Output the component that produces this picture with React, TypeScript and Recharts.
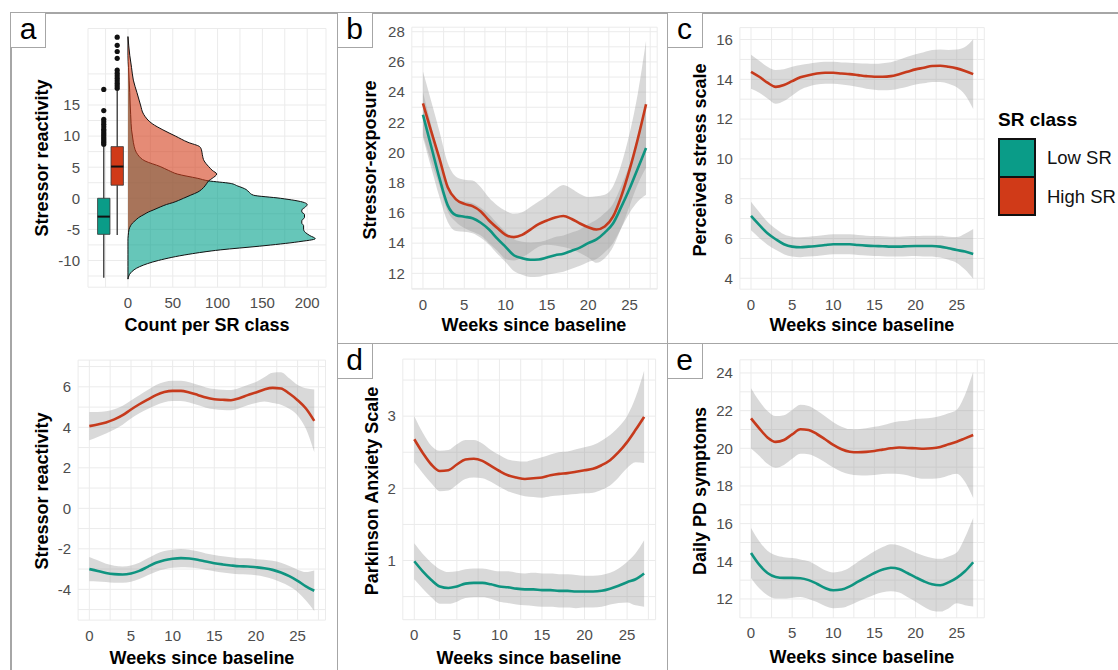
import React from "react";
import {
  ComposedChart,
  Area,
  Line,
  XAxis,
  YAxis,
  CartesianGrid,
  ReferenceArea,
  ReferenceLine,
  Scatter,
} from "recharts";

const FONT = '"Liberation Sans", Arial, Helvetica, sans-serif';
const TEAL = "#0f9480";
const RED = "#c63a1c";
const TEAL_FILL = "#00a08a";
const RED_FILL = "#d43d1a";
const BOX_TEAL = "#0a9c88";
const BOX_RED = "#d03a18";
const GRID = "#ebebeb";
const FRAME = "#a6a6a6";

// ---- panel a (top): density + boxplots ----
const densityY = [-13, -12, -11, -10, -9, -8.3, -7.7, -7, -6.5, -6, -5.5, -5, -4.4, -4, -3.6, -3.1, -2.6, -2.2, -1.9, -1.4, -1, -0.7, 0, 0.5, 1, 1.4, 2, 2.4, 2.8, 3.2, 3.9, 4.5, 5.1, 6, 7, 7.8, 8.3, 9, 10, 11, 12, 13.5, 15, 17, 19, 21, 23, 26];
const lowSRCount = [0, 3, 13, 34, 68, 103, 147, 190, 209, 203, 198, 196, 196, 194, 194, 197, 197, 194, 194, 198, 200, 197, 170, 140, 135, 132, 122, 114, 90, 78, 55, 45, 36, 19, 11, 8, 7, 6, 5, 4, 3.5, 3, 2.5, 2, 1.3, 0.6, 0, 0];
const highSRCount = [0, 0, 0, 0, 0, 0, 0, 0, 0, 0.3, 0.6, 1.2, 3, 5, 8, 12, 18, 23, 28, 36, 43, 50, 62, 70, 78, 82, 86, 88, 90, 94, 99, 94, 90, 85, 83, 82, 80, 67, 53, 39, 27, 17.5, 14, 10, 6, 4, 2, 0];

// min, q1, median, q3, max
const lowSRBox = [-12.8, -5.8, -2.95, 0, 8.6];
const highSRBox = [-5.9, 2.1, 5.1, 8.3, 17.4];
const lowSROutliers = [8.7, 9.0, 9.3, 9.6, 9.9, 10.2, 10.5, 10.8, 11.1, 11.5, 11.9, 12.3, 12.7, 14.1, 17.5];
const highSROutliers = [17.7, 18.1, 18.5, 18.9, 19.3, 19.7, 20.1, 20.6, 22.5, 23.6, 24.6, 25.9];

const countTicks = [-25, 0, 25, 50, 75, 100, 125, 150, 175, 200];
const countLabels = [0, 50, 100, 150, 200];
const reactivityGrid = [-12.5, -10, -7.5, -5, -2.5, 0, 2.5, 5, 7.5, 10, 12.5, 15, 17.5, 20];
const reactivityLabels = [-10, -5, 0, 5, 10, 15];

// ---- weekly smoothed trends ----
const weeks = [0, 1, 2, 3, 4, 5, 6, 7, 8, 9, 10, 11, 12, 13, 14, 15, 16, 17, 18, 19, 20, 21, 22, 23, 24, 25, 26, 27];
const weekTicks = [0, 2.5, 5, 7.5, 10, 12.5, 15, 17.5, 20, 22.5, 25, 27.5];
const weekLabels = [0, 5, 10, 15, 20, 25];

// stressor reactivity
const srHigh = [4.06, 4.14, 4.24, 4.39, 4.6, 4.88, 5.14, 5.37, 5.59, 5.74, 5.8, 5.8, 5.72, 5.6, 5.47, 5.39, 5.36, 5.34, 5.44, 5.59, 5.72, 5.87, 5.95, 5.92, 5.67, 5.34, 4.93, 4.32];
const srHighCi = [0.7, 0.62, 0.55, 0.5, 0.47, 0.45, 0.45, 0.47, 0.5, 0.5, 0.5, 0.5, 0.5, 0.5, 0.5, 0.5, 0.5, 0.5, 0.5, 0.5, 0.52, 0.6, 0.75, 0.8, 0.75, 0.75, 1.0, 1.55];
const srLow = [-3.0, -3.09, -3.19, -3.25, -3.27, -3.22, -3.09, -2.89, -2.69, -2.56, -2.49, -2.46, -2.48, -2.54, -2.63, -2.71, -2.77, -2.82, -2.86, -2.87, -2.91, -2.96, -3.04, -3.17, -3.35, -3.58, -3.85, -4.07];
const srLowCi = [0.6, 0.52, 0.45, 0.42, 0.4, 0.4, 0.4, 0.42, 0.44, 0.45, 0.45, 0.45, 0.44, 0.42, 0.4, 0.4, 0.4, 0.4, 0.4, 0.4, 0.4, 0.42, 0.45, 0.48, 0.5, 0.55, 0.7, 1.0];
const srTicks = [-5, -4, -3, -2, -1, 0, 1, 2, 3, 4, 5, 6, 7];
const srLabels = [-4, -2, 0, 2, 4, 6];

// stressor exposure
const exHigh = [23.26, 21.4, 19.6, 17.7, 16.9, 16.6, 16.45, 16.1, 15.5, 15.0, 14.55, 14.4, 14.55, 14.9, 15.26, 15.5, 15.7, 15.8, 15.6, 15.3, 15.05, 14.9, 15.1, 15.75, 17.1, 18.85, 20.9, 23.2];
const exHighCi = [2.1, 2.0, 1.8, 1.6, 1.5, 1.6, 1.7, 1.6, 1.5, 1.5, 1.6, 1.55, 1.5, 1.5, 1.5, 1.6, 1.85, 2.05, 2.0, 1.95, 2.0, 2.2, 2.1, 2.0, 2.1, 2.4, 3.0, 4.2];
const exLow = [22.5, 20.4, 18.3, 16.5, 15.85, 15.75, 15.65, 15.35, 14.9, 14.3, 13.75, 13.2, 13.0, 12.9, 12.92, 13.05, 13.2, 13.3, 13.5, 13.7, 14.0, 14.25, 14.7, 15.3, 16.4, 17.6, 18.95, 20.3];
const exLowCi = [1.5, 1.4, 1.25, 1.1, 1.05, 1.0, 1.0, 1.0, 1.0, 1.0, 1.0, 1.05, 1.1, 1.15, 1.15, 1.15, 1.2, 1.2, 1.2, 1.2, 1.25, 1.3, 1.3, 1.3, 1.4, 1.6, 2.2, 3.1];
const exTicks = [11, 12, 13, 14, 15, 16, 17, 18, 19, 20, 21, 22, 23, 24, 25, 26, 27, 28];
const exLabels = [12, 14, 16, 18, 20, 22, 24, 26, 28];

// perceived stress scale
const psHigh = [14.38, 14.13, 13.83, 13.62, 13.71, 13.91, 14.1, 14.21, 14.29, 14.33, 14.33, 14.29, 14.26, 14.21, 14.16, 14.13, 14.13, 14.16, 14.26, 14.38, 14.5, 14.58, 14.67, 14.68, 14.63, 14.55, 14.42, 14.26];
const psHighCi = [0.85, 0.8, 0.8, 0.85, 0.8, 0.72, 0.62, 0.57, 0.55, 0.55, 0.55, 0.55, 0.57, 0.6, 0.63, 0.65, 0.68, 0.7, 0.72, 0.75, 0.76, 0.78, 0.8, 0.82, 0.85, 0.95, 1.2, 1.75];
const psLow = [7.13, 6.68, 6.26, 5.96, 5.71, 5.59, 5.56, 5.59, 5.62, 5.67, 5.71, 5.71, 5.71, 5.67, 5.64, 5.62, 5.61, 5.59, 5.59, 5.61, 5.62, 5.62, 5.62, 5.59, 5.51, 5.42, 5.34, 5.22];
const psLowCi = [0.72, 0.65, 0.58, 0.53, 0.5, 0.5, 0.5, 0.5, 0.5, 0.5, 0.5, 0.5, 0.5, 0.5, 0.5, 0.5, 0.5, 0.5, 0.5, 0.5, 0.5, 0.52, 0.52, 0.55, 0.58, 0.65, 0.9, 1.25];
const psTicks = [4, 5, 6, 7, 8, 9, 10, 11, 12, 13, 14, 15, 16];
const psLabels = [4, 6, 8, 10, 12, 14, 16];

// parkinson anxiety scale
const paHigh = [2.68, 2.49, 2.33, 2.24, 2.25, 2.33, 2.4, 2.41, 2.38, 2.31, 2.24, 2.18, 2.15, 2.13, 2.14, 2.15, 2.18, 2.2, 2.21, 2.23, 2.25, 2.27, 2.32, 2.39, 2.5, 2.64, 2.81, 2.99];
const paHighCi = [0.32, 0.28, 0.26, 0.28, 0.28, 0.28, 0.27, 0.26, 0.24, 0.22, 0.22, 0.22, 0.23, 0.24, 0.26, 0.28, 0.29, 0.3, 0.3, 0.31, 0.32, 0.33, 0.34, 0.35, 0.35, 0.36, 0.45, 0.64];
const paLow = [0.99, 0.85, 0.73, 0.64, 0.62, 0.64, 0.68, 0.69, 0.69, 0.67, 0.64, 0.63, 0.61, 0.6, 0.6, 0.59, 0.59, 0.58, 0.58, 0.57, 0.57, 0.57, 0.58, 0.61, 0.65, 0.7, 0.74, 0.82];
const paLowCi = [0.25, 0.24, 0.24, 0.24, 0.22, 0.21, 0.2, 0.2, 0.2, 0.2, 0.21, 0.22, 0.22, 0.22, 0.23, 0.23, 0.23, 0.23, 0.23, 0.23, 0.22, 0.22, 0.22, 0.22, 0.24, 0.28, 0.36, 0.46];
const paTicks = [0.5, 1, 1.5, 2, 2.5, 3, 3.5];
const paLabels = [1, 2, 3];

// daily PD symptoms
const pdHigh = [21.59, 21.06, 20.58, 20.34, 20.44, 20.74, 21.01, 20.97, 20.76, 20.48, 20.18, 19.95, 19.82, 19.79, 19.81, 19.86, 19.93, 20.0, 20.04, 20.02, 20.0, 19.98, 20.0, 20.07, 20.21, 20.35, 20.53, 20.71];
const pdHighCi = [1.6, 1.45, 1.4, 1.37, 1.32, 1.3, 1.3, 1.28, 1.25, 1.22, 1.2, 1.2, 1.2, 1.22, 1.25, 1.28, 1.3, 1.35, 1.4, 1.45, 1.55, 1.6, 1.62, 1.65, 1.65, 1.7, 2.3, 3.35];
const pdLow = [14.44, 13.82, 13.38, 13.17, 13.12, 13.12, 13.1, 13.0, 12.81, 12.58, 12.46, 12.5, 12.67, 12.92, 13.15, 13.38, 13.56, 13.66, 13.59, 13.38, 13.15, 12.94, 12.78, 12.73, 12.88, 13.12, 13.47, 13.95];
const pdLowCi = [1.33, 1.25, 1.18, 1.15, 1.1, 1.05, 1.0, 1.0, 0.97, 0.95, 0.95, 0.97, 1.0, 1.05, 1.1, 1.15, 1.2, 1.25, 1.25, 1.28, 1.3, 1.35, 1.4, 1.4, 1.38, 1.35, 1.8, 2.35];
const pdTicks = [11, 12, 13, 14, 15, 16, 17, 18, 19, 20, 21, 22, 23, 24];
const pdLabels = [12, 14, 16, 18, 20, 22, 24];

const tickStyle = { fill: "#4d4d4d", fontSize: 15, fontFamily: FONT };

type Margin = { top: number; right: number; bottom: number; left: number };

type TrendProps = {
  left: number;
  top: number;
  width: number;
  height: number;
  margin: Margin;
  yWidth: number;
  yDomain: [number, number];
  yTicks: number[];
  yLabels: number[];
  high: number[];
  highCi: number[];
  low: number[];
  lowCi: number[];
};

function TrendPanel(p: TrendProps) {
  const rows = weeks.map((week, i) => ({
    week,
    high: p.high[i],
    highBand: [p.high[i] - p.highCi[i], p.high[i] + p.highCi[i]],
    low: p.low[i],
    lowBand: [p.low[i] - p.lowCi[i], p.low[i] + p.lowCi[i]],
  }));
  return (
    <div style={{ position: "absolute", left: p.left, top: p.top }}>
      <ComposedChart width={p.width} height={p.height} data={rows} margin={p.margin}>
        <CartesianGrid stroke={GRID} strokeWidth={1} />
        <XAxis
          type="number"
          dataKey="week"
          domain={[-1.35, 28.35]}
          ticks={weekTicks}
          interval={0}
          allowDataOverflow
          tickFormatter={(v: number) => (weekLabels.includes(v) ? String(v) : "")}
          axisLine={false}
          tickLine={false}
          tickSize={0}
          tickMargin={10}
          height={30}
          tick={tickStyle}
        />
        <YAxis
          type="number"
          domain={p.yDomain}
          ticks={p.yTicks}
          interval={0}
          allowDataOverflow
          tickFormatter={(v: number) => (p.yLabels.includes(v) ? String(v) : "")}
          axisLine={false}
          tickLine={false}
          tickSize={0}
          tickMargin={7}
          width={p.yWidth}
          tick={tickStyle}
        />
        <Area dataKey="highBand" type="monotone" fill="#999999" fillOpacity={0.37} stroke="none" isAnimationActive={false} />
        <Area dataKey="lowBand" type="monotone" fill="#999999" fillOpacity={0.37} stroke="none" isAnimationActive={false} />
        <Line dataKey="low" type="monotone" stroke={TEAL} strokeWidth={2.6} dot={false} activeDot={false} isAnimationActive={false} />
        <Line dataKey="high" type="monotone" stroke={RED} strokeWidth={2.6} dot={false} activeDot={false} isAnimationActive={false} />
      </ComposedChart>
    </div>
  );
}

const BOX_HALF = 6.9;
const LOW_BOX_X = -27;
const HIGH_BOX_X = -12;

function boxplotMarks(stats: number[], center: number, color: string, key: string) {
  const [lo, q1, med, q3, hi] = stats;
  const x1 = center - BOX_HALF;
  const x2 = center + BOX_HALF;
  return [
    <ReferenceLine key={key + "w1"} segment={[{ x: center, y: lo }, { x: center, y: q1 }]} stroke="#333" strokeWidth={1.3} />,
    <ReferenceLine key={key + "w2"} segment={[{ x: center, y: q3 }, { x: center, y: hi }]} stroke="#333" strokeWidth={1.3} />,
    <ReferenceArea key={key + "b"} x1={x1} x2={x2} y1={q1} y2={q3} fill={color} fillOpacity={1} stroke="#333" strokeWidth={0.8} />,
    <ReferenceLine key={key + "m"} segment={[{ x: x1, y: med }, { x: x2, y: med }]} stroke="#111" strokeWidth={2} />,
  ];
}

function DensityPanel() {
  const rows = densityY.map((y, i) => ({ y, low: lowSRCount[i], high: highSRCount[i] }));
  const lowPts = lowSROutliers.map((y) => ({ x: LOW_BOX_X, y }));
  const highPts = highSROutliers.map((y) => ({ x: HIGH_BOX_X, y }));
  const dot = (p: any) => <circle cx={p.cx} cy={p.cy} r={2.6} fill="#111" />;
  return (
    <div style={{ position: "absolute", left: 0, top: 0 }}>
      <ComposedChart
        layout="vertical"
        width={337}
        height={340}
        data={rows}
        margin={{ top: 28.5, right: 11, bottom: 22.8, left: 28 }}
      >
        <CartesianGrid stroke={GRID} strokeWidth={1} />
        <XAxis
          type="number"
          domain={[-44.6, 221]}
          ticks={countTicks}
          interval={0}
          allowDataOverflow
          tickFormatter={(v: number) => (countLabels.includes(v) ? String(v) : "")}
          axisLine={false}
          tickLine={false}
          tickSize={0}
          tickMargin={10}
          height={30}
          tick={tickStyle}
        />
        <YAxis
          type="number"
          dataKey="y"
          reversed
          domain={[-14.3, 27.3]}
          ticks={reactivityGrid}
          interval={0}
          allowDataOverflow
          tickFormatter={(v: number) => (reactivityLabels.includes(v) ? String(v) : "")}
          axisLine={false}
          tickLine={false}
          tickSize={0}
          tickMargin={8}
          width={60}
          tick={tickStyle}
        />
        <Area dataKey="low" type="monotone" fill={TEAL_FILL} fillOpacity={0.6} stroke="#111" strokeWidth={1} isAnimationActive={false} />
        <Area dataKey="high" type="monotone" fill={RED_FILL} fillOpacity={0.6} stroke="#111" strokeWidth={1} isAnimationActive={false} />
        {boxplotMarks(lowSRBox, LOW_BOX_X, BOX_TEAL, "low")}
        {boxplotMarks(highSRBox, HIGH_BOX_X, BOX_RED, "high")}
        <Scatter data={lowPts} dataKey="x" shape={dot} isAnimationActive={false} />
        <Scatter data={highPts} dataKey="x" shape={dot} isAnimationActive={false} />
      </ComposedChart>
    </div>
  );
}

function XTitle({ x, y, text }: { x: number; y: number; text: string }) {
  return (
    <div
      style={{
        position: "absolute",
        left: x,
        top: y,
        transform: "translate(-50%, -50%)",
        fontFamily: FONT,
        fontWeight: 700,
        fontSize: 18,
        color: "#000",
        whiteSpace: "nowrap",
        lineHeight: 1,
      }}
    >
      {text}
    </div>
  );
}

function YTitle({ x, y, text }: { x: number; y: number; text: string }) {
  return (
    <div
      style={{
        position: "absolute",
        left: x,
        top: y,
        transform: "translate(-50%, -50%) rotate(-90deg)",
        fontFamily: FONT,
        fontWeight: 700,
        fontSize: 18,
        color: "#000",
        whiteSpace: "nowrap",
        lineHeight: 1,
      }}
    >
      {text}
    </div>
  );
}

function Tag({ x, y, text }: { x: number; y: number; text: string }) {
  return (
    <div
      style={{
        position: "absolute",
        left: x,
        top: y,
        width: 36,
        height: 36,
        boxSizing: "border-box",
        border: `1.6px solid ${FRAME}`,
        background: "#fff",
        fontFamily: FONT,
        fontSize: 30,
        lineHeight: "32px",
        textAlign: "center",
        color: "#000",
      }}
    >
      {text}
    </div>
  );
}

function Rule({ x, y, w, h }: { x: number; y: number; w: number; h: number }) {
  return <div style={{ position: "absolute", left: x, top: y, width: w, height: h, background: FRAME }} />;
}

export default function App() {
  return (
    <div
      style={{
        position: "absolute",
        left: 0,
        top: 0,
        width: 1118,
        height: 670,
        background: "#fff",
        overflow: "hidden",
        fontFamily: FONT,
      }}
    >
      <DensityPanel />
      <TrendPanel
        left={0} top={340} width={337} height={330}
        margin={{ top: 20.1, right: 11.5, bottom: 19.9, left: 28.1 }}
        yWidth={50} yDomain={[-5.52, 7.32]} yTicks={srTicks} yLabels={srLabels}
        high={srHigh} highCi={srHighCi} low={srLow} lowCi={srLowCi}
      />
      <TrendPanel
        left={337} top={0} width={330} height={340}
        margin={{ top: 27.2, right: 9.8, bottom: 20.8, left: 29.8 }}
        yWidth={45} yDomain={[10.95, 28.3]} yTicks={exTicks} yLabels={exLabels}
        high={exHigh} highCi={exHighCi} low={exLow} lowCi={exLowCi}
      />
      <TrendPanel
        left={667} top={0} width={340} height={340}
        margin={{ top: 27.6, right: 22.7, bottom: 20.8, left: 27.9 }}
        yWidth={45} yDomain={[3.45, 16.6]} yTicks={psTicks} yLabels={psLabels}
        high={psHigh} highCi={psHighCi} low={psLow} lowCi={psLowCi}
      />
      <TrendPanel
        left={337} top={340} width={330} height={330}
        margin={{ top: 19.1, right: 11.4, bottom: 20.3, left: 25.8 }}
        yWidth={40} yDomain={[0.18, 3.79]} yTicks={paTicks} yLabels={paLabels}
        high={paHigh} highCi={paHighCi} low={paLow} lowCi={paLowCi}
      />
      <TrendPanel
        left={667} top={340} width={340} height={330}
        margin={{ top: 19.8, right: 22.7, bottom: 22.2, left: 27.9 }}
        yWidth={45} yDomain={[11.0, 24.7]} yTicks={pdTicks} yLabels={pdLabels}
        high={pdHigh} highCi={pdHighCi} low={pdLow} lowCi={pdLowCi}
      />

      <YTitle x={42} y={158} text="Stressor reactivity" />
      <XTitle x={207} y={325} text="Count per SR class" />
      <YTitle x={42} y={491} text="Stressor reactivity" />
      <XTitle x={202} y={658} text="Weeks since baseline" />
      <YTitle x={370} y={160} text="Stressor-exposure" />
      <XTitle x={534} y={325} text="Weeks since baseline" />
      <YTitle x={700} y={160} text="Perceived stress scale" />
      <XTitle x={862} y={325} text="Weeks since baseline" />
      <YTitle x={372} y={491} text="Parkinson Anxiety Scale" />
      <XTitle x={529} y={658} text="Weeks since baseline" />
      <YTitle x={700} y={491} text="Daily PD symptoms" />
      <XTitle x={862} y={657} text="Weeks since baseline" />

      <Rule x={10} y={12} w={1108} h={1.6} />
      <Rule x={10} y={12} w={1.6} h={658} />
      <Rule x={336.5} y={12} w={1.6} h={658} />
      <Rule x={666.5} y={12} w={1.6} h={658} />
      <Rule x={337} y={342.5} w={781} h={1.6} />

      <Tag x={10} y={12} text="a" />
      <Tag x={336.5} y={12} text="b" />
      <Tag x={666.5} y={12} text="c" />
      <Tag x={336.5} y={342.5} text="d" />
      <Tag x={666.5} y={342.5} text="e" />

      <div style={{ position: "absolute", left: 998, top: 108, fontSize: 19, fontWeight: 700, lineHeight: "24px", color: "#000" }}>
        SR class
      </div>
      <div style={{ position: "absolute", left: 998, top: 138, width: 38, height: 78, boxSizing: "border-box", border: "2px solid #111", background: BOX_RED }}>
        <div style={{ width: "100%", height: 38, borderBottom: "2px solid #111", background: BOX_TEAL, boxSizing: "border-box" }} />
      </div>
      <div style={{ position: "absolute", left: 1047, top: 146, fontSize: 18.5, lineHeight: "24px", color: "#111" }}>Low SR</div>
      <div style={{ position: "absolute", left: 1047, top: 185, fontSize: 18.5, lineHeight: "24px", color: "#111" }}>High SR</div>
    </div>
  );
}
